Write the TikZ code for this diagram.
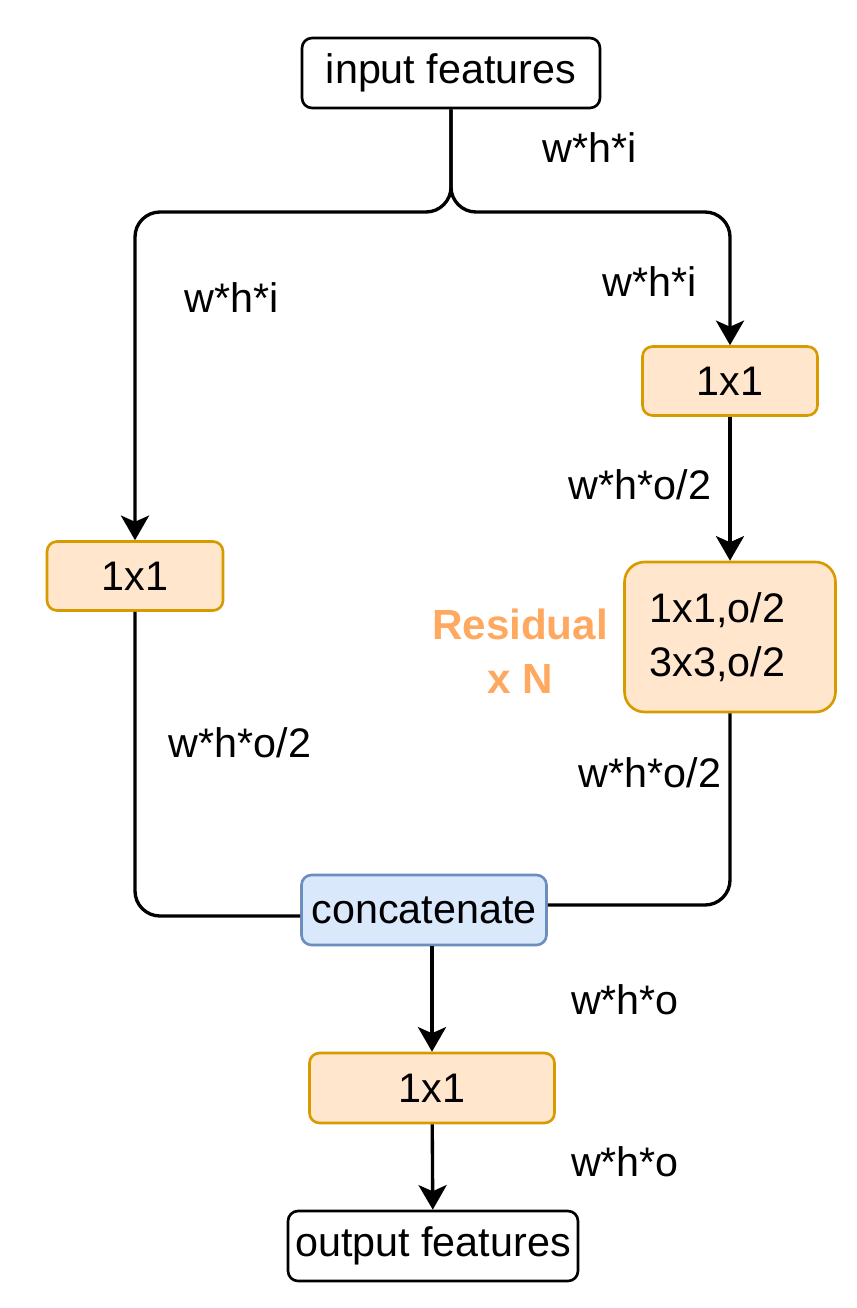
\documentclass[tikz,border=0pt]{standalone}
\usepackage{fontspec}
\setmainfont{Liberation Sans}
\usetikzlibrary{arrows.meta}
\definecolor{convfill}{RGB}{255,230,204}
\definecolor{convline}{RGB}{215,155,0}
\definecolor{catfill}{RGB}{218,232,252}
\definecolor{catline}{RGB}{108,142,191}
\definecolor{resorange}{RGB}{255,168,95}

\begin{document}
\begin{tikzpicture}[x=0.02cm,y=-0.02cm,
        font=\fontsize{23.5}{28}\selectfont,
        feat/.style={draw=black,fill=white,rounded corners=0.2cm,line width=1.5pt,minimum height=1.4cm,inner sep=2pt},
        conv/.style={draw=convline,fill=convfill,rounded corners=0.2cm,line width=1.5pt,minimum height=1.38cm},
        cat/.style={draw=catline,fill=catfill,rounded corners=0.2cm,line width=1.5pt,minimum height=1.4cm},
        link/.style={line width=1.9pt,rounded corners=0.5cm},
        arrow/.style={link,-{Stealth[length=14pt,width=16pt,inset=3.5pt]}}]
            \useasboundingbox (0,0) rectangle (856,1308);

            \node[feat,minimum width=5.96cm] (in) at (451,73) {input features};
            \node[conv,minimum width=3.52cm] (left) at (135,576) {1x1};
            \node[conv,minimum width=3.5cm] (right) at (730,381) {1x1};
            \node[conv,minimum width=4.22cm,minimum height=3cm,rounded corners=0.4cm,align=center,
                font=\fontsize{23.5}{31}\selectfont] (res) at (730,637) {1x1,o/2\kern0.5cm\\3x3,o/2\kern0.5cm};
            \node[cat,minimum width=4.9cm] (cat) at (424,910) {concatenate};
            \node[conv,minimum width=4.9cm,minimum height=1.4cm] (merge) at (432,1088) {1x1};
            \node[feat,minimum width=5.8cm] (out) at (433,1246) {output features};

            % sizes on the links
            \node (s1) at (590,148) {w*h*i};
            \node (s2) at (232,298) {w*h*i};
            \node (s3) at (650,282) {w*h*i};
            \node (s4) at (640,485) {w*h*o/2};
            \node (s5) at (240,743) {w*h*o/2};
            \node (s6) at (650,773) {w*h*o/2};
            \node (s7) at (625,1000) {w*h*o};
            \node (s8) at (625,1162) {w*h*o};
            \node[text=resorange,align=center,font=\fontsize{24}{31}\selectfont\bfseries] (rep) at (520,651) {Residual\\x N};

            \coordinate (split) at (451,212);
            \draw[arrow] (in.south) -- (split) -| (left.north);
            \draw[arrow] (in.south) -- (split) -| (right.north);
            \path (right) edge[arrow] (res);
            \draw[link] (left) |- ([yshift=-0.12cm]cat.west);
            \draw[link] (res) |- ([yshift=0.1cm]cat.east);
            \draw[arrow] (merge.north |- cat.south) -- (merge.north);
            \path (merge) edge[arrow] (out);

        \end{tikzpicture}
\end{document}
